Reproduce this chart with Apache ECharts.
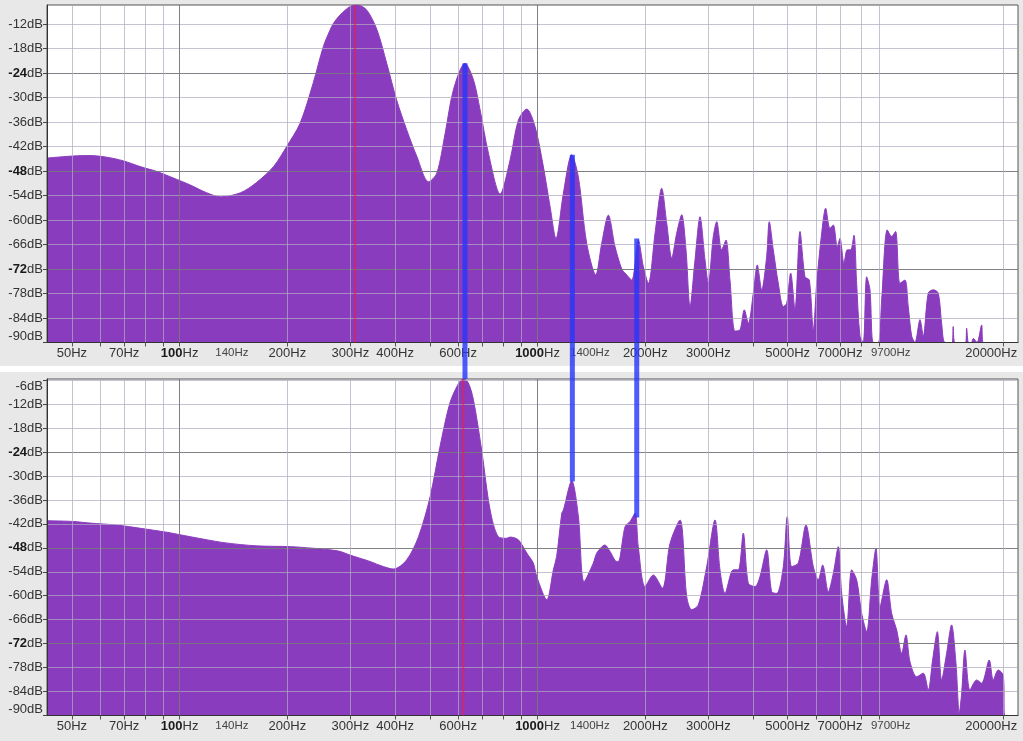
<!DOCTYPE html>
<html><head><meta charset="utf-8">
<script src="https://cdn.jsdelivr.net/npm/echarts@6/dist/echarts.min.js"></script>
<style>html,body{margin:0;padding:0;background:#e8e8e8}#c{width:1023px;height:741px}</style>
</head><body><div id="c"></div>
<script>
// ---- axis definitions ----
const FREQ_MIN = 42.6, FREQ_MAX = 22000;
const TOP_DB_MIN = -90, TOP_DB_MAX = -7.3;
const BOT_DB_MIN = -90, BOT_DB_MAX = -5.7;
const gridFreqs = [50,60,70,80,90,100,200,300,400,500,600,700,800,900,1000,2000,3000,4000,5000,6000,7000,8000,9000,20000];
const majorFreqs = [100,1000];
const labelFreqs = [50,70,100,140,200,300,400,600,1000,1400,2000,3000,5000,7000,9700,20000];
const boldFreqLabels = [100,1000];
const smallFreqLabels = [140,1400,9700];
const topDbTicks = [-90,-84,-78,-72,-66,-60,-54,-48,-42,-36,-30,-24,-18,-12];
const bottomDbTicks = [-90,-84,-78,-72,-66,-60,-54,-48,-42,-36,-30,-24,-18,-12,-6];
const majorDbTicks = [-72,-48,-24];

// ---- top spectrum ----
const topFreq = [42.6,50.5,56.2,62.6,69.7,77.6,86.4,96.1,107,119,130,148,164,183,199,217,236,252,263,269,281,299,313,333,356,379,404,431,460,496,523,552,582,627,662,691,729,786,838,884,933,984,1038,1084,1126,1181,1246,1300,1372,1454,1511,1577,1646,1719,1756,1833,1912,1975,2040,2130,2223,2296,2371,2448,2528,2599,2667,2754,2844,2937,3000,3098,3167,3269,3361,3449,3562,3679,3782,3881,4008,4111,4229,4367,4441,4557,4706,4860,4967,5097,5240,5412,5589,5745,5895,6025,6222,6383,6561,6704,6878,6998,7180,7335,7497,7657,7791,7958,8130,8309,8488,8670,8954,9152,9487,9759,10010,10290,10630,10860,11100,11340,11710,11960,12350,12750,13170,13460,13750,14400,14500,14660,15700,15810,16000,16300,16500,16900,17410,17590,22000];
const topDb = [-44.8,-44.3,-44.2,-44.6,-45.5,-46.9,-48.1,-49.7,-51.4,-53.3,-54.3,-53.3,-50.8,-46.9,-42.0,-36.3,-26.5,-17.5,-13.5,-11.8,-9.7,-7.7,-7.3,-8.5,-13.4,-21.6,-30.6,-37.9,-44.4,-50.6,-48.5,-38.7,-28.1,-21.6,-25.6,-33.0,-43.6,-53.6,-45.3,-35.5,-32.8,-37.1,-46.9,-56.7,-64.5,-53.4,-44.0,-49.4,-65.7,-73.4,-65.7,-58.8,-66.5,-72.0,-73.0,-74.7,-64.9,-71.4,-75.5,-63.2,-52.2,-60.8,-69.3,-63.2,-58.7,-67.3,-81.2,-69.8,-59.2,-69.8,-75.5,-64.0,-60.4,-67.3,-64.9,-74.7,-87.2,-86.9,-82.0,-85.3,-77.9,-71.0,-77.1,-68.9,-60.4,-67.3,-75.5,-81.2,-80.4,-73.0,-82.0,-62.8,-73.9,-74.7,-86.9,-75.5,-63.2,-57.1,-62.0,-61.2,-66.5,-64.5,-70.6,-67.3,-67.3,-63.7,-75.5,-88.4,-90,-73.9,-77.1,-90,-90,-79.6,-62.4,-64.0,-62.8,-75.5,-74.7,-81.2,-88.4,-90,-84.4,-88.4,-77.9,-77.1,-77.9,-85.3,-90,-90,-86.1,-90,-90,-86.5,-90,-90,-89,-90,-85.7,-90,-90];

// ---- bottom spectrum ----
const bottomFreq = [42.6,50.5,56.2,66.8,77.6,92.1,107,133,164,204,236,263,281,299,340,371,396,431,465,501,534,569,601,620,640,662,698,737,777,820,838,884,933,973,995,1061,1107,1131,1169,1181,1246,1300,1349,1432,1464,1543,1594,1664,1682,1756,1813,1873,1912,1997,2106,2232,2345,2500,2611,2696,2813,2969,3132,3234,3340,3523,3638,3757,3881,4052,4183,4367,4511,4659,4860,4986,5130,5353,5623,5895,6087,6262,6492,6704,6922,7075,7306,7545,7791,8047,8309,8581,8822,9052,9450,9759,10080,10410,10700,10980,11460,11960,12350,12700,13090,13460,13900,14350,14760,15080,15310,15640,16150,16860,17410,18280,18760,19370,20000,20220,22000];
const bottomDb = [-41.2,-41.4,-41.8,-42.3,-43.1,-44.1,-45.2,-46.7,-47.5,-47.7,-48.1,-48.5,-48.9,-49.8,-51.4,-52.7,-53.3,-51.0,-45.2,-35.2,-22.6,-11.7,-6.9,-5.7,-6.6,-10.9,-23.5,-38.5,-45.2,-45.6,-45.3,-46.0,-49.3,-51.8,-55.2,-61.0,-53.5,-50.1,-39.3,-38.5,-31.2,-40.0,-56.5,-51.8,-49.3,-47.3,-48.9,-51.4,-51.4,-42.7,-41.4,-39.3,-47.7,-57.7,-54.8,-58.1,-46.9,-41.0,-60.2,-63.5,-62.3,-52.7,-41.0,-53.5,-59.4,-53.5,-53.5,-44.3,-56.9,-57.7,-55.2,-48.5,-59.0,-59.4,-52.7,-40.2,-52.7,-51.8,-42.3,-52.7,-56.0,-52.3,-59.0,-54.4,-47.7,-59.4,-67.7,-53.5,-56.0,-64.4,-69.0,-56.0,-48.1,-62.8,-56.0,-64.4,-68.6,-74.4,-69.8,-76.5,-80.3,-79.4,-83.6,-76.1,-69.0,-81.1,-74.4,-67.3,-76.9,-89.4,-84.4,-73.6,-83.6,-81.1,-81.9,-76.1,-81.1,-78.6,-79.9,-90,-90];

// ---- markers ----
const topMarkerFreq = 309, topMarkerDb = -7.3;
const bottomMarkerFreq = 620, bottomMarkerDb = -5.7;
const connectorFreqs = [627, 1251, 1893];
const connectorTopDb = [-21.6, -44.0, -64.5];
const connectorBottomDb = [-5.7, -31.4, -40.4];
const connectorGapDb = 3.4; // bottom-panel value reaching the top panel's lower edge

const L = Math.log10;
const FONT = '"Liberation Sans", Arial, Helvetica, sans-serif';
const PURPLE = '#8a3cbe';
const GRID_MINOR = 'rgba(178,170,192,0.72)';
const GRID_MAJOR = 'rgba(105,105,110,0.75)';
const lastLabelFreq = labelFreqs[labelFreqs.length - 1];

function xLabelFmt(v){
  const f = Math.round(Math.pow(10, v));
  if (boldFreqLabels.indexOf(f) >= 0) return '{b|' + f + '}Hz';
  if (smallFreqLabels.indexOf(f) >= 0) return '{m|' + f + 'Hz}';
  if (f === lastLabelFreq) return '{e|' + f + 'Hz}';
  return f + 'Hz';
}
function yLabelFmt(v){
  const d = Math.round(v);
  if (majorDbTicks.indexOf(d) >= 0) return '{b|' + d + '}dB';
  return d + 'dB';
}
const richX = {
  b:{fontWeight:'bold', fontSize:13, color:'#1a1a1a', fontFamily:FONT},
  m:{fontSize:11.5, color:'#444', fontFamily:FONT},
  e:{fontSize:13, color:'#333', fontFamily:FONT, padding:[0,24,0,0]}
};
const richY = { b:{fontWeight:'bold', fontSize:13, color:'#1a1a1a', fontFamily:FONT} };

function mainX(gridIndex){
  return {
    type:'value', gridIndex, min:L(FREQ_MIN), max:L(FREQ_MAX), position:'bottom', z:3,
    axisLine:{show:true, onZero:false, lineStyle:{color:'#333', width:1}},
    axisTick:{show:true, length:4, customValues: gridFreqs.map(L), lineStyle:{color:'#555'}},
    axisLabel:{show:true, customValues: labelFreqs.map(L), formatter:xLabelFmt, color:'#333', fontSize:13, fontFamily:FONT, margin:4, rich:richX},
    splitLine:{show:true, lineStyle:{color:GRID_MINOR, width:1}}
  };
}
function majorX(gridIndex){
  return {
    type:'value', gridIndex, min:L(FREQ_MIN), max:L(FREQ_MAX), position:'top', z:3,
    axisLine:{show:false}, axisLabel:{show:false},
    axisTick:{show:false, customValues: majorFreqs.map(L)},
    splitLine:{show:true, lineStyle:{color:GRID_MAJOR, width:1}}
  };
}
function mainY(gridIndex, min, max, ticks, extraLabel){
  return {
    type:'value', gridIndex, min, max, position:'left', z:3,
    axisLine:{show:true, onZero:false, lineStyle:{color:'#333', width:1}},
    axisTick:{show:true, length:4, customValues: ticks, lineStyle:{color:'#444'}},
    axisLabel:Object.assign({show:true, customValues: ticks, formatter:yLabelFmt, color:'#333', fontSize:13, fontFamily:FONT, margin:4, rich:richY}, extraLabel),
    splitLine:{show:true, lineStyle:{color:GRID_MINOR, width:1}}
  };
}
function majorY(gridIndex, min, max){
  return {
    type:'value', gridIndex, min, max, position:'right', z:3,
    axisLine:{show:false}, axisLabel:{show:false},
    axisTick:{show:false, customValues: majorDbTicks},
    splitLine:{show:true, lineStyle:{color:GRID_MAJOR, width:1}}
  };
}

const topData = topFreq.map((f,i)=>[L(f), topDb[i]]);
const bottomData = bottomFreq.map((f,i)=>[L(f), bottomDb[i]]);

const series = [
  {type:'line', xAxisIndex:0, yAxisIndex:0, data:topData, showSymbol:false, smooth:0.3, z:2,
   lineStyle:{color:PURPLE, width:1}, areaStyle:{color:PURPLE, opacity:1, origin:'start'}},
  {type:'line', xAxisIndex:2, yAxisIndex:2, data:bottomData, showSymbol:false, smooth:0.3, z:2,
   lineStyle:{color:PURPLE, width:1}, areaStyle:{color:PURPLE, opacity:1, origin:'start'}},
  {type:'line', xAxisIndex:0, yAxisIndex:0, data:[[L(topMarkerFreq), topMarkerDb],[L(topMarkerFreq), TOP_DB_MIN]], showSymbol:false, z:5,
   lineStyle:{color:'rgba(235,30,70,0.6)', width:2}},
  {type:'line', xAxisIndex:2, yAxisIndex:2, data:[[L(bottomMarkerFreq), bottomMarkerDb],[L(bottomMarkerFreq), BOT_DB_MIN]], showSymbol:false, z:5,
   lineStyle:{color:'rgba(235,30,70,0.6)', width:2}}
];
connectorFreqs.forEach((f,i)=>{
  series.push({type:'line', xAxisIndex:0, yAxisIndex:0, data:[[L(f), connectorTopDb[i]],[L(f), TOP_DB_MIN]], showSymbol:false, z:6,
    lineStyle:{color:'rgba(40,55,250,0.82)', width:5, cap:'butt'}});
  series.push({type:'line', xAxisIndex:2, yAxisIndex:2, clip:false, data:[[L(f), connectorGapDb],[L(f), connectorBottomDb[i]]], showSymbol:false, z:6,
    lineStyle:{color:'rgba(40,55,250,0.82)', width:5, cap:'butt'}});
});

const chart = echarts.init(document.getElementById('c'), null, {renderer:'canvas'});
chart.setOption({
  animation:false,
  backgroundColor:'#e8e8e8',
  graphic:[{type:'rect', left:0, top:366, shape:{width:1023, height:6}, style:{fill:'#ffffff'}, z:-1}],
  grid:[
    {left:47, right:5, top:5, height:337.5, show:true, containLabel:false, outerBoundsMode:'none', backgroundColor:'#ffffff', borderColor:'#555', borderWidth:1},
    {left:47, right:5, top:379, height:336.5, show:true, containLabel:false, outerBoundsMode:'none', backgroundColor:'#ffffff', borderColor:'#555', borderWidth:1}
  ],
  xAxis:[mainX(0), majorX(0), mainX(1), majorX(1)],
  yAxis:[
    mainY(0, TOP_DB_MIN, TOP_DB_MAX, topDbTicks, {verticalAlignMinLabel:'bottom'}),
    majorY(0, TOP_DB_MIN, TOP_DB_MAX),
    mainY(1, BOT_DB_MIN, BOT_DB_MAX, bottomDbTicks, {verticalAlignMinLabel:'bottom', verticalAlignMaxLabel:'top'}),
    majorY(1, BOT_DB_MIN, BOT_DB_MAX)
  ],
  series
});
</script></body></html>
